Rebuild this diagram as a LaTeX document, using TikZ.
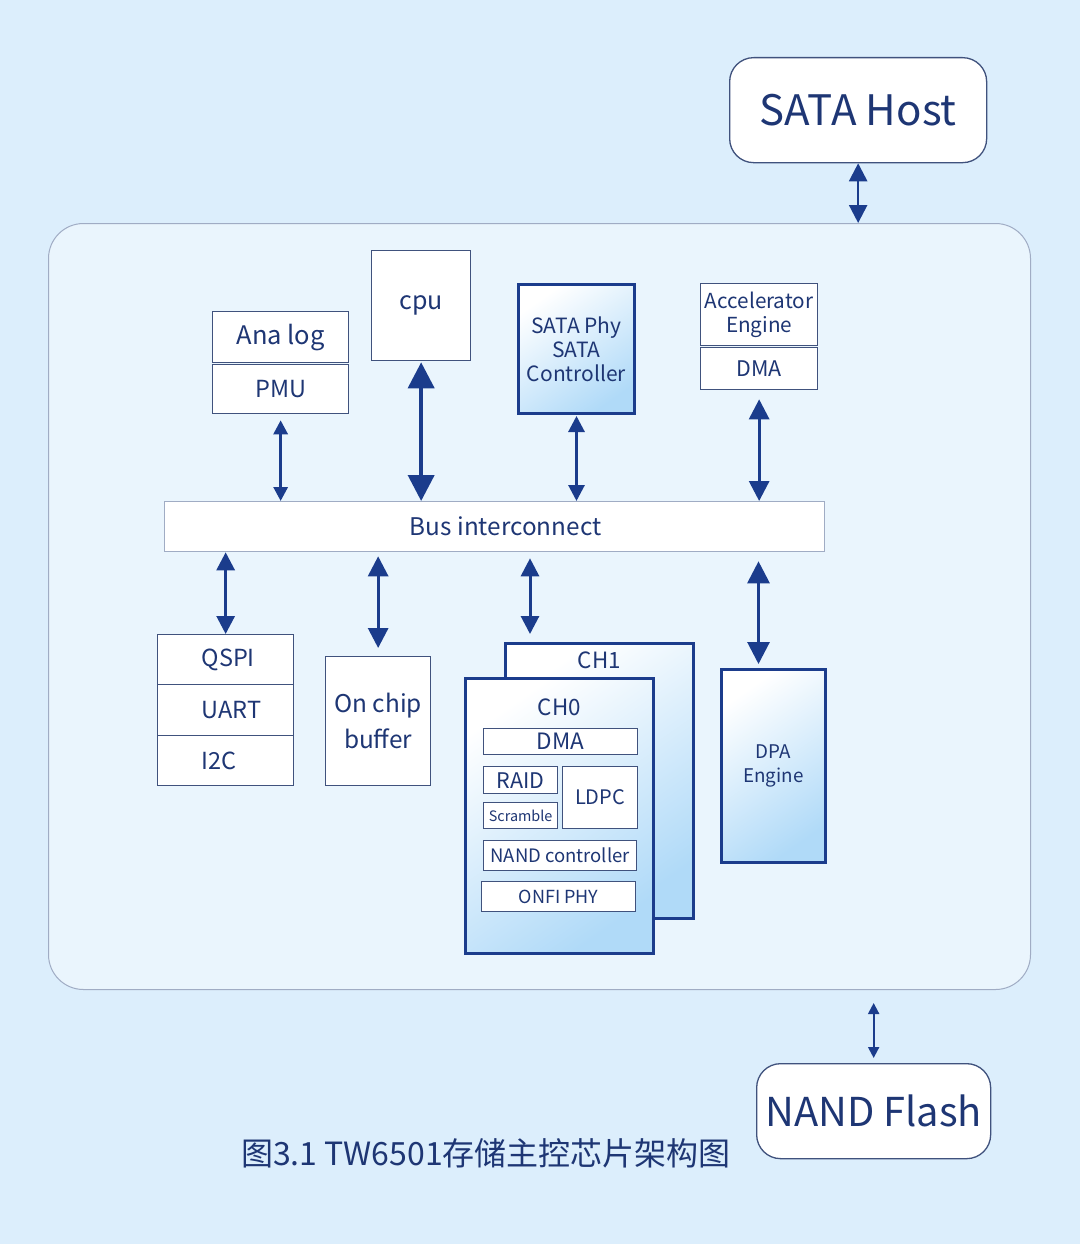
\documentclass[tikz,border=0pt]{standalone}
\usepackage{fontspec}
\setmainfont{Noto Sans CJK SC}
\usetikzlibrary{arrows.meta,positioning,calc}
\definecolor{navy}{RGB}{30,54,116}
\definecolor{arrowblue}{RGB}{27,60,140}
\definecolor{thinline}{RGB}{64,82,125}
\definecolor{greyline}{RGB}{160,172,196}
\definecolor{bgblue}{RGB}{220,238,252}
\definecolor{panelblue}{RGB}{234,245,253}
\definecolor{shadeblue}{RGB}{176,218,248}
\newcommand{\setfs}[2]{\fontsize{#1}{#2}\selectfont}

\begin{document}
\begin{tikzpicture}[x=1pt, y=-1pt,
    box/.style={draw=thinline, fill=white, text=navy, line width=1.3pt, inner sep=0pt, anchor=north west},
    heavybox/.style={box, draw=arrowblue, line width=3pt, top color=white, bottom color=shadeblue, shading angle=35},
    roundbox/.style={box, rounded corners=24pt},
    link/.style={arrowblue, line width=3pt, arrows={Triangle[length=#1pt,width=#1pt]-Triangle[length=#1pt,width=#1pt]}}]

    \useasboundingbox[fill=bgblue] (0,0) rectangle (1080,1244);

    % host, chip frame
    \node[roundbox, minimum width=257pt, minimum height=105pt, font=\setfs{42}{50}] (host) at (729,57) {SATA Host};
    \node[roundbox, draw=greyline, fill=panelblue, line width=1pt, rounded corners=35pt, minimum width=982pt, minimum height=766pt] (chip) at (48,223) {};

    % upper blocks
    \node[box, minimum width=136pt, minimum height=51pt, font=\setfs{25.5}{28}] (analog) at (212,311) {Ana log};
    \node[box, minimum width=136pt, minimum height=49pt, font=\setfs{23.5}{26}] (pmu) at (212,364) {PMU};
    \node[box, minimum width=99pt, minimum height=110pt, font=\setfs{25}{28}] (cpu) at (371,250) {cpu};
    \node[heavybox, minimum width=116pt, minimum height=129pt, align=center, font=\setfs{21}{24}] (sataphy) at (517,283) {SATA Phy\\SATA\\Controller};
    \node[box, minimum width=117pt, minimum height=62pt, align=center, font=\setfs{20.7}{24}] (accel) at (700,283) {Accelerator\\Engine};
    \node[box, minimum width=117pt, minimum height=42pt, font=\setfs{21.5}{24}] (accdma) at (700,347) {DMA};

    \node[box, draw=greyline, minimum width=660pt, minimum height=50pt, font=\setfs{24.3}{28}] (bus) at (164,501) {\hspace*{22pt}Bus interconnect};

    % lower blocks
    \node[box, minimum width=136pt, minimum height=50pt, text width=48pt, align=left, font=\setfs{23.5}{26}] (qspi) at (157,634) {QSPI};
    \node[box, minimum width=136pt, minimum height=51pt, text width=48pt, align=left, font=\setfs{23.5}{26}] (uart) at (157,684) {UART};
    \node[box, minimum width=136pt, minimum height=50pt, text width=48pt, align=left, font=\setfs{23.5}{26}] (itwoc) at (157,735) {I2C};
    \node[box, minimum width=105pt, minimum height=129pt, align=center, font=\setfs{24.4}{36}] (buffer) at (325,656) {On chip\\buffer};

    % channels
    \node[heavybox, minimum width=188pt, minimum height=275pt] (ch1) at (504,642) {};
    \node[text=navy, inner sep=0pt, font=\setfs{22.4}{26}, below=10pt of ch1.north] (ch1lbl) {CH1};
    \node[heavybox, minimum width=188pt, minimum height=275pt] (ch0) at (464,677) {};
    \node[text=navy, inner sep=0pt, font=\setfs{22.4}{26}, below=22pt of ch0.north] (ch0lbl) {CH0};
    \node[box, minimum width=154pt, minimum height=26pt, font=\setfs{22.5}{25}] (chdma) at (483,728) {DMA};
    \node[box, minimum width=74pt, minimum height=27pt, font=\setfs{21.5}{24}] (raid) at (483,766) {RAID};
    \node[box, minimum width=74pt, minimum height=26pt, font=\setfs{14.4}{16}] (scramble) at (483,802) {Scramble};
    \node[box, minimum width=75pt, minimum height=62pt, font=\setfs{20}{24}] (ldpc) at (562,766) {LDPC};
    \node[box, minimum width=153pt, minimum height=30pt, font=\setfs{18.5}{22}] (nandctl) at (483,840) {NAND controller};
    \node[box, minimum width=154pt, minimum height=30pt, font=\setfs{18}{22}] (onfi) at (481,881) {ONFI PHY};

    \node[heavybox, minimum width=104pt, minimum height=193pt, align=center, font=\setfs{18.8}{24}] (dpa) at (720,668) {DPA\\Engine};

    % flash, caption
    \node[roundbox, minimum width=234pt, minimum height=95pt, font=\setfs{39.8}{48}] (flash) at (756,1063) {NAND Flash};
    \node[text=navy, font=\setfs{32}{36}] (caption) at (486,1153) {图3.1 TW6501存储主控芯片架构图};

    % connectors
    \coordinate (ch1port) at ($(ch1.north west)+(26,0)$);
    \coordinate (dpaport) at ($(dpa.north)+(-15,0)$);
    \draw[link=18, line width=2.5pt] (host.south) -- (host.south |- chip.north);
    \draw[link=14, shorten <=6pt] (pmu.south) -- (pmu.south |- bus.north);
    \draw[link=26, line width=4pt, shorten <=1pt] (cpu.south) -- (cpu.south |- bus.north);
    \draw[link=16, shorten <=1pt] (sataphy.south) -- (sataphy.south |- bus.north);
    \draw[link=20, shorten <=9pt] (accdma.south) -- (accdma.south |- bus.north);
    \draw[link=18] (bus.south -| qspi.north) -- (qspi.north);
    \draw[link=20, shorten <=4pt, shorten >=8pt] (bus.south -| buffer.north) -- (buffer.north);
    \draw[link=18, shorten <=6pt, shorten >=8pt] (bus.south -| ch1port) -- (ch1port);
    \draw[link=22, shorten <=9pt, shorten >=4pt] (bus.south -| dpaport) -- (dpaport);
    \draw[link=11, line width=2pt, shorten <=13pt, shorten >=5pt] (chip.south -| flash.north) -- (flash.north);
\end{tikzpicture}
\end{document}
